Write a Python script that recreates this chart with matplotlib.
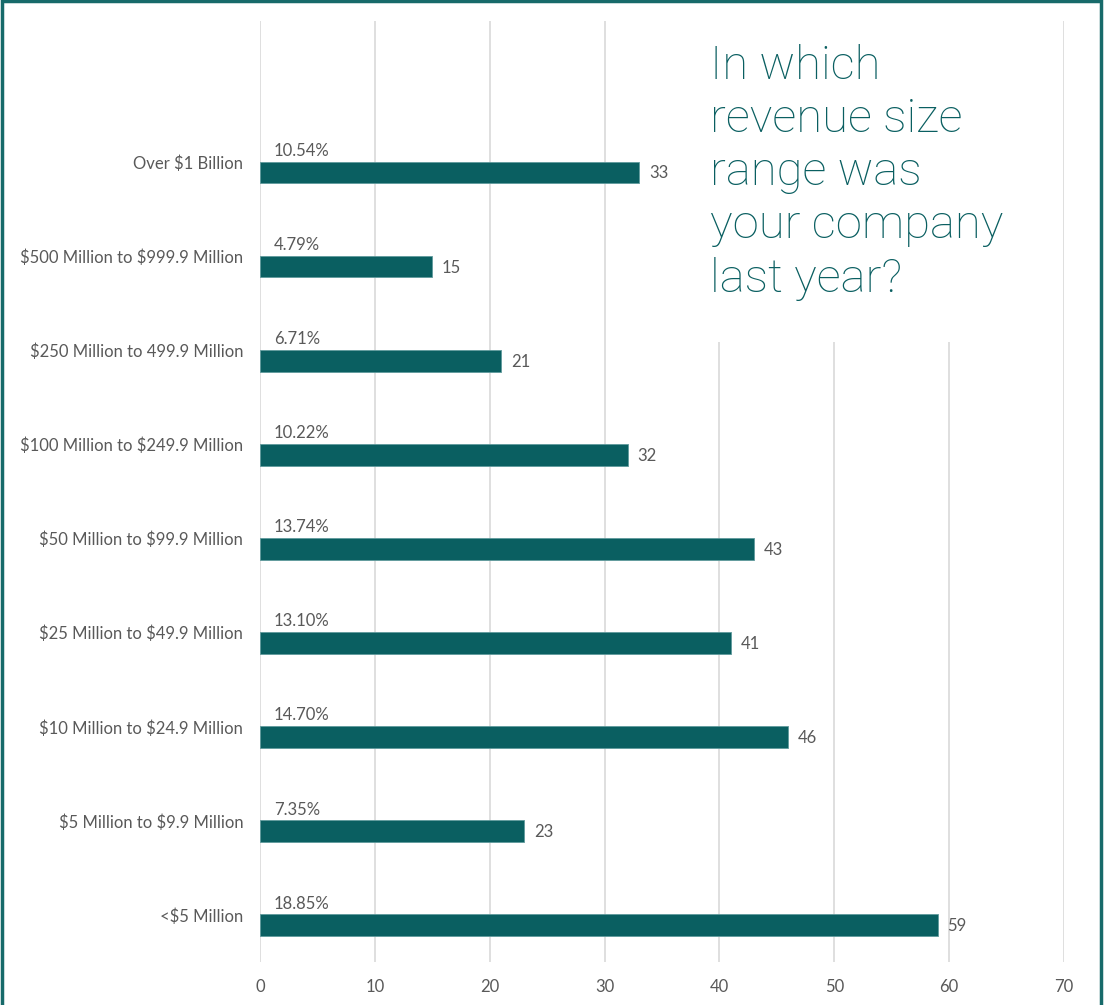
import matplotlib
matplotlib.use("Agg")
import matplotlib.pyplot as plt
from matplotlib.patches import Rectangle

plt.rcParams["text.parse_math"] = False

categories = ["<$5 Million", "$5 Million to $9.9 Million", "$10 Million to $24.9 Million",
              "$25 Million to $49.9 Million", "$50 Million to $99.9 Million",
              "$100 Million to $249.9 Million", "$250 Million to 499.9 Million",
              "$500 Million to $999.9 Million", "Over $1 Billion"]
counts = [59, 23, 46, 41, 43, 32, 21, 15, 33]
percents = ["18.85%", "7.35%", "14.70%", "13.10%", "13.74%", "10.22%", "6.71%", "4.79%", "10.54%"]
xticks = [0, 10, 20, 30, 40, 50, 60, 70]
title_lines = ["In which", "revenue size", "range was", "your company", "last year?"]

W, H = 1104, 1005
teal = "#0a5f61"
gray = "#595959"
font = "Lato"
fs = 12

fig = plt.figure(figsize=(W / 100, H / 100), dpi=100)
ax = fig.add_axes([260 / W, 1 - 962 / H, 804 / W, 941 / H])

ypos = list(range(len(categories)))
ax.barh([y - 0.11 for y in ypos], counts, height=0.23, color=teal,
        edgecolor="#5f9a9c", linewidth=0.6, zorder=2)

for y, c, p in zip(ypos, counts, percents):
    ax.text(1.2, y + 0.12, p, ha="left", va="center", fontsize=fs,
            color=gray, family=font, zorder=3)
    ax.text(c + 0.85, y - 0.12, str(c), ha="left", va="center", fontsize=fs,
            color=gray, family=font, zorder=3)

ax.set_xlim(0, 70)
ax.set_ylim(-0.5, 9.5)
ax.set_xticks(xticks)
ax.set_xticklabels([str(t) for t in xticks], family=font, fontsize=fs, color=gray)
ax.set_yticks(ypos)
ax.set_yticklabels(categories, family=font, fontsize=fs, color=gray)
ax.tick_params(axis="both", length=0)
ax.tick_params(axis="y", pad=12)
ax.tick_params(axis="x", pad=12)
ax.set_axisbelow(True)
ax.grid(axis="x", color="#d9d9d9", linewidth=1.2)
for s in ax.spines.values():
    s.set_visible(False)

# white box behind title hiding gridlines
ax.add_patch(Rectangle(((700 - 260) / 804, (962 - 342) / 941),
                       (1050 - 700) / 804, 1.0 - (962 - 342) / 941,
                       transform=ax.transAxes, facecolor="white",
                       edgecolor="none", zorder=1))

baselines = [79, 132, 185, 238, 292]
for line, b in zip(title_lines, baselines):
    fig.text(710 / W, 1 - b / H, line, ha="left", va="baseline",
             fontsize=34, color=teal, family="Roboto", fontweight="light")

fig.patches.append(Rectangle((1.5 / W, -0.01), (1099 / W), 1.01 - 1.5 / H,
                             transform=fig.transFigure, fill=False,
                             edgecolor="#176a6a", linewidth=2.5))

fig.savefig("out.png", dpi=100)
